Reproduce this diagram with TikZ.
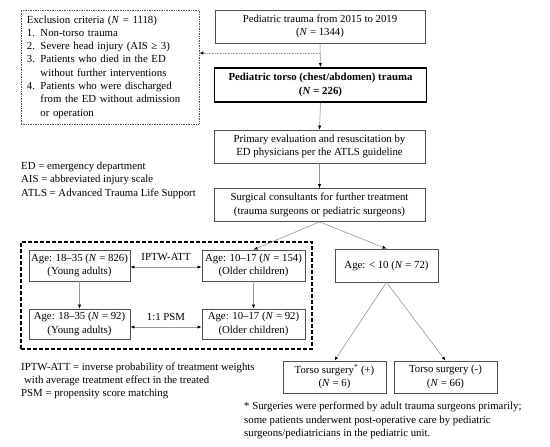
\documentclass[tikz,border=0pt]{standalone}
\usepackage{fontspec}
\setmainfont{Liberation Serif}
\usetikzlibrary{arrows.meta}
\definecolor{boxgray}{RGB}{80,80,80}
\definecolor{linegray}{RGB}{150,150,150}
\newcommand{\NN}{\textit{N}}
\begin{document}
\begin{tikzpicture}[x=1pt,y=-1pt,
  every node/.style={font=\fontsize{10.8}{13.3}\selectfont, inner sep=0pt},
  box/.style={draw=boxgray, line width=0.7pt, align=center},
  arr/.style={draw=linegray, line width=0.6pt, -{Latex[length=4pt,width=3.2pt,black]}},
  darr/.style={draw=linegray, line width=0.6pt, {Latex[length=4pt,width=3.2pt,black]}-{Latex[length=4pt,width=3.2pt,black]}},
  legend/.style={anchor=north west, align=left}]
\fill[white] (0,0) rectangle (550,447);
\useasboundingbox (0,0) rectangle (550,447);

% exclusion box
\node[draw=boxgray, densely dotted, line width=0.7pt, minimum width=178pt, minimum height=114pt,
  text width=166pt, align=left] (excl) at (110,67)
  {Exclusion criteria (\NN{} = 1118)\\
   1. Non-torso trauma\\
   2. Severe head injury (AIS ≥ 3)\\
   3. Patients who died in the ED\\
   \hphantom{3. }without further interventions\\
   4. Patients who were discharged\\
   \hphantom{4. }from the ED without admission\\
   \hphantom{4. }or operation};

% main column
\node[box, minimum width=210pt, minimum height=33pt] (top) at (320,26.5)
  {Pediatric trauma from 2015 to 2019\\(\NN{} = 1344)};
\node[draw=black, line width=1.6pt, align=center, minimum width=212pt, minimum height=34pt] (bold) at (320.5,85)
  {\textbf{Pediatric torso (chest/abdomen) trauma}\\\textbf{(\NN{} = 226)}};
\node[box, minimum width=211pt, minimum height=33pt] (prim) at (319.5,146.5)
  {Primary evaluation and resuscitation by\\ED physicians per the ATLS guideline};
\node[box, minimum width=211pt, minimum height=33pt] (surg) at (319.5,205)
  {Surgical consultants for further treatment\\(trauma surgeons or pediatric surgeons)};

\coordinate (split) at (319.5,53);
\draw[arr] (top.south) -- (bold.north);
\draw[draw=linegray, densely dotted, line width=0.6pt, -{Latex[length=4pt,width=3.2pt,black]}] (split) -- (split -| excl.east);
\draw[arr] (bold.south) -- (prim.north);
\draw[arr] (prim.south) -- (surg.north);

% dashed group
\node[draw=black, dashed, dash pattern=on 4pt off 2pt, line width=1.2pt, minimum width=291pt, minimum height=107pt] (group) at (166.5,295.5) {};
\node[box, minimum width=101pt, minimum height=31pt] (young1) at (79.5,265.5)
  {Age: 18–35 (\NN{} = 826)\\(Young adults)};
\node[box, minimum width=103pt, minimum height=31pt] (old1) at (253.5,265.5)
  {Age: 10–17 (\NN{} = 154)\\(Older children)};
\node[box, minimum width=101pt, minimum height=30pt] (young2) at (79.5,324)
  {Age: 18–35 (\NN{} = 92)\\(Young adults)};
\node[box, minimum width=103pt, minimum height=30pt] (old2) at (253.5,324)
  {Age: 10–17 (\NN{} = 92)\\(Older children)};
\draw[darr] ([yshift=-1.5pt]young1.east) -- node[above=6pt] (iptw) {IPTW-ATT} ([yshift=-1.5pt]old1.west);
\draw[darr] ([yshift=-3pt]young2.east) -- node[above=6pt] (psm) {1:1 PSM} ([yshift=-3pt]old2.west);
\draw[arr] (young1.south) -- (young2.north);
\draw[arr] (old1.south) -- (old2.north);

% under 10
\node[box, minimum width=103pt, minimum height=33pt] (young) at (386.5,265.5)
  {Age: < 10 (\NN{} = 72)};
\node[box, minimum width=103pt, minimum height=32pt] (torp) at (334.5,377)
  {Torso surgery\textsuperscript{*} (+)\\(\NN{} = 6)};
\node[box, minimum width=103pt, minimum height=32pt] (torm) at (445.5,377)
  {Torso surgery (-)\\(\NN{} = 66)};
\draw[arr] (surg.south) -- (old1.north);
\draw[arr] (surg.south) -- (young.north);
\draw[arr] (young.south) -- (torp.north);
\draw[arr] (young.south) -- (torm.north);

% legends
\node[legend] (abbr) at (21,162)
  {ED = emergency department\\AIS = abbreviated injury scale\\ATLS = Advanced Trauma Life Support};
\node[legend] (abbr2) at (21,362.5)
  {IPTW-ATT = inverse probability of treatment weights\\\hspace{3pt}with average treatment effect in the treated\\PSM = propensity score matching};
\node[legend] (foot) at (244,402)
  {* Surgeries were performed by adult trauma surgeons primarily;\\some patients underwent post-operative care by pediatric\\surgeons/pediatricians in the pediatric unit.};
\end{tikzpicture}
\end{document}
